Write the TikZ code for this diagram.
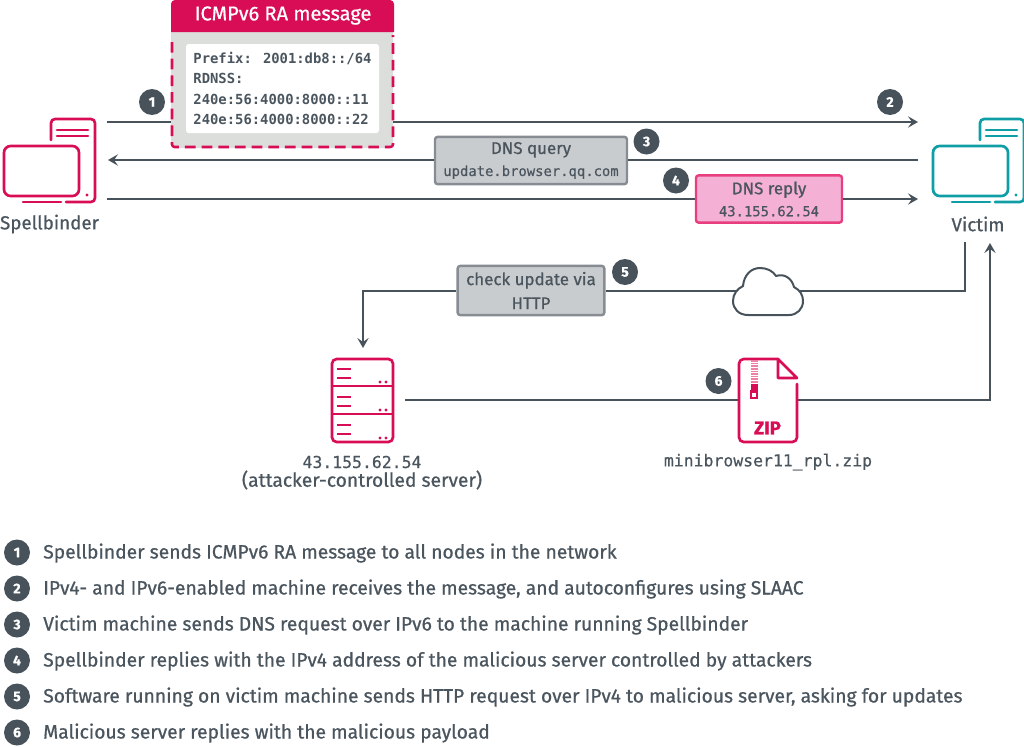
\documentclass[tikz,border=0pt]{standalone}
\usepackage{fontspec}
\setmainfont[FakeBold=0.7]{Fira Sans}
\newfontfamily\monof[FakeBold=0.5]{DejaVu Sans Mono}
\newfontfamily\monob{DejaVu Sans Mono}
\usetikzlibrary{arrows.meta}
\definecolor{ink}{HTML}{47525B}
\definecolor{txt}{HTML}{4A555E}
\definecolor{crim}{HTML}{D90D55}
\definecolor{teal2}{HTML}{0F9EA6}
\definecolor{pale}{HTML}{DCDEDC}
\definecolor{gbox}{HTML}{C9CCCF}
\definecolor{gline}{HTML}{868C92}
\definecolor{pinkf}{HTML}{F5B0D6}
\definecolor{pinkl}{HTML}{E83E7E}
\definecolor{zipst}{HTML}{EE7FA6}
\newcommand{\szbody}{\fontsize{14.45pt}{18pt}\selectfont}
\newcommand{\szbox}{\fontsize{12.7pt}{18pt}\selectfont}
\newcommand{\szmono}{\monof\fontsize{10.4pt}{15.4pt}\selectfont}
\newcommand{\szmonob}{\monob\fontsize{10.4pt}{15.4pt}\selectfont\bfseries}
\newcommand{\szlab}{\monof\fontsize{12.35pt}{15.4pt}\selectfont}
\newcommand{\hosticon}[2]{%
  \begin{scope}[shift={(#1,0)},line width=2pt,line cap=round,rounded corners=3pt]
    \draw[#2] (51,140) -- (51,119) -- (95,119) -- (95,202) -- (66,202);
    \draw[#2,rounded corners=5pt] (4,146) rectangle (79,196);
    \draw[#2,sharp corners] (57,130) -- (88,130) (57,136) -- (88,136) (23,202) -- (61,202);
    \fill[#2] (87,195) circle (1.6);
  \end{scope}}
\tikzset{
  x=.75pt,y=-.75pt,
  wire/.style={draw=ink,line width=1.85pt},
  tip/.style={-{Stealth[length=7.5pt,width=8.5pt,inset=3pt]}},
  num/.style={circle,fill=ink,minimum size=19.5pt,inner sep=0pt,text=white,font=\fontsize{10.5pt}{12pt}\selectfont\bfseries},
  lab/.style={text=txt,font=\szbody,inner sep=0pt,align=center},
  mono/.style={text=txt,font=\szlab,inner sep=0pt,align=center},
  graybox/.style={draw=gline,fill=gbox,line width=1.8pt,rounded corners=2pt,text=txt,inner sep=0pt,align=center},
  listt/.style={anchor=base west,text=txt,inner sep=0pt,font=\szbody},
}
\begin{document}
\begin{tikzpicture}
\useasboundingbox (0,0) rectangle (1024,746);
% ICMP box
\node[fill=pale,rounded corners=3pt,minimum width=166.5pt,minimum height=111pt,inner sep=0pt] (icmp) at (282,74) {};
\fill[crim,rounded corners=3pt] (171,32) -- (171,0) -- (394,0) -- (394,20) [sharp corners] -- (394,32) -- cycle;
\node[text=white,inner sep=0pt,font=\fontsize{15pt}{16pt}\selectfont] (hdr) at (283,15.5) {ICMPv6 RA message};
\draw[crim,line width=1.9pt,dash pattern=on 8pt off 4.5pt,rounded corners=2pt] (172,42) -- (172,147) -- (393,147) -- (393,35);
\node[fill=white,rounded corners=2pt,minimum width=144.75pt,minimum height=66.75pt,inner sep=0pt,align=left,text=txt,font=\szmonob] (inner) at (282.5,88.5)
 {Prefix: 2001:db8::/64\\RDNSS:\\240e:56:4000:8000::11\\240e:56:4000:8000::22};
% hosts
\hosticon{0}{crim}
\hosticon{929}{teal2}
\node[lab,font=\fontsize{14.1pt}{18pt}\selectfont] (spell) at (49.5,224) {Spellbinder};
\node[lab,font=\fontsize{14.1pt}{18pt}\selectfont] (victim) at (978,224) {Victim};
% free ends
\coordinate (s1) at (107,122); \coordinate (v1) at (918,122);
\coordinate (s2) at (108,160); \coordinate (v2) at (918,160);
\coordinate (s3) at (107,199); \coordinate (v3) at (918,199);
\coordinate (vd) at (965,242); \coordinate (vu) at (990,243);
\coordinate (bend) at (965,291); \coordinate (bend2) at (990,400);
\coordinate (srvt) at (363,348); \coordinate (srvr) at (405,400);
% boxes
\node[graybox,minimum width=144pt,minimum height=35.5pt,font=\szbox] (q) at (531,160.5) {DNS query\\[-1.5pt]{\szmono update.browser.qq.com}};
\node[graybox,draw=pinkl,fill=pinkf,minimum width=109.5pt,minimum height=35.5pt,font=\szbox] (r) at (769,199) {DNS reply\\[-1.5pt]{\szmono 43.155.62.54}};
\node[graybox,minimum width=110pt,minimum height=37pt,font=\szbox] (c) at (531,290.5) {check update via\\HTTP};
% wires
\draw[wire] (s1) -- (icmp.west |- s1);
\draw[wire,tip] (icmp.east |- v1) -- (v1);
\draw[wire,tip] (q.west |- s2) -- (s2);
\draw[wire] (v2) -- (q.east |- v2);
\draw[wire] (s3) -- (r.west |- s3);
\draw[wire,tip] (r.east |- v3) -- (v3);
\draw[wire] (vd) -- (bend) -- (c.east |- bend);
\draw[wire,tip] (c.west |- bend) -| (srvt);
\draw[wire,tip] (srvr) -- (bend2) -- (vu);
% cloud
\draw[ink,line width=1.5pt,fill=white,line join=round] (748,315) .. controls (739,315) and (733,309) .. (733,301) .. controls (733,294) and (737,289) .. (743,286) .. controls (744,275) and (751,268) .. (760,268) .. controls (767,268) and (773,271) .. (776,276) .. controls (785,273) and (792,279) .. (794,287) .. controls (800,290) and (803,295) .. (803,301) .. controls (803,309) and (797,315) .. (789,315) -- cycle;
% server
\begin{scope}[crim,line width=2pt]
\draw[rounded corners=3.5pt] (332,359) rectangle (393,442);
\draw (332,386) -- (393,386) (332,414) -- (393,414);
\foreach \o in {0,28,56}{
  \draw (337,369+\o) -- (351,369+\o) (337,378+\o) -- (351,378+\o);
  \fill (380,382+\o) circle (1.7) (386,382+\o) circle (1.7);
}
\end{scope}
\node[mono] (ip) at (362,462) {43.155.62.54};
\node[lab] (srvlab) at (362,480) {(attacker-controlled server)};
% zip
\fill[white] (739,359) rectangle (797,442);
\draw[crim,line width=2pt,line join=round,line cap=round,rounded corners=3.5pt] (797,384) -- (797,442) -- (739,442) -- (739,359) -- (778,359);
\draw[crim,line width=2pt,line join=round] (778,359) -- (797,378) -- (778,378) -- cycle;
\foreach \y in {361,363.6,...,382} \draw[zipst,line width=1.1pt] (750.5,\y) -- (757.5,\y);
\fill[crim] (750.5,384) rectangle (757.5,391);
\draw[crim,line width=1.6pt] (751,391.5) rectangle (757,398);
\node[text=crim,inner sep=0pt,font=\fontsize{14pt}{14pt}\selectfont\bfseries] (ziplab) at (767.5,428) {ZIP};
\node[mono] (zipn) at (768,462) {minibrowser11\_rpl.zip};
% numbers
\node[num] (n1) at (152,102) {1};
\node[num] (n2) at (890,102) {2};
\node[num] (n3) at (646.5,141.5) {3};
\node[num] (n4) at (676,180.5) {4};
\node[num] (n5) at (625,272) {5};
\node[num] (n6) at (718.5,381) {6};
% list
\node[num] (l1) at (17,552.5) {1};
\node[num] (l2) at (17,588.5) {2};
\node[num] (l3) at (17,624.5) {3};
\node[num] (l4) at (17,660.5) {4};
\node[num] (l5) at (17,696.5) {5};
\node[num] (l6) at (17,732.5) {6};
\node[listt] (t1) at (43,558.5) {Spellbinder sends ICMPv6 RA message to all nodes in the network};
\node[listt] (t2) at (43,594.5) {IPv4- and IPv6-enabled machine receives the message, and autoconfigures using SLAAC};
\node[listt] (t3) at (43,630.5) {Victim machine sends DNS request over IPv6 to the machine running Spellbinder};
\node[listt] (t4) at (43,666.5) {Spellbinder replies with the IPv4 address of the malicious server controlled by attackers};
\node[listt] (t5) at (43,702.5) {Software running on victim machine sends HTTP request over IPv4 to malicious server, asking for updates};
\node[listt] (t6) at (43,738.5) {Malicious server replies with the malicious payload};
\end{tikzpicture}
\end{document}
